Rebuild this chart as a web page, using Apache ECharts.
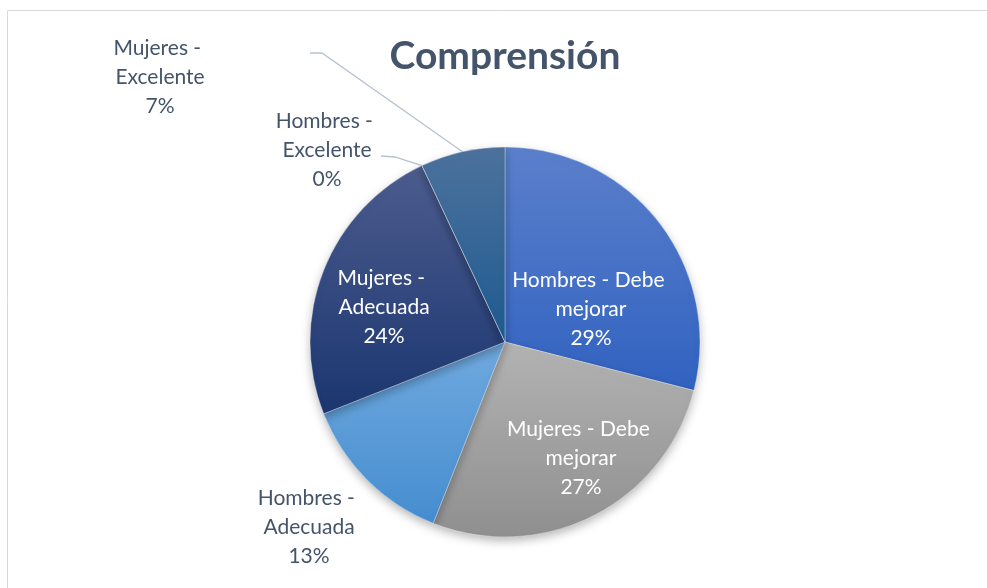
<!DOCTYPE html>
<html>
<head>
<meta charset="utf-8">
<script src="https://cdn.jsdelivr.net/npm/echarts@6/dist/echarts.min.js"></script>
<style>
html,body{margin:0;padding:0;background:#fff;}
#chart{width:987px;height:588px;}
</style>
</head>
<body>
<div id="chart"></div>
<script>
// ---- data ----
const categories = [
  'Hombres - Debe mejorar',
  'Mujeres - Debe mejorar',
  'Hombres - Adecuada',
  'Mujeres - Adecuada',
  'Hombres - Excelente',
  'Mujeres - Excelente'
];
const values = [29, 27, 13, 24, 0, 7];
const titleText = 'Comprensión';

// ---- styling (not data) ----
const gradients = [
  ['#5b80cc', '#3162c0'],
  ['#b3b3b3', '#8f8f8f'],
  ['#70a9de', '#458dd0'],
  ['#4c5c8e', '#1b3670'],
  ['#666666', '#555555'],
  ['#4d729d', '#1e5a91']
];
const inside = [true, true, false, true, false, false];
const labelLines = [false, false, false, false, true, true];
// label centre positions (text placement only)
const labelCenters = [
  [591, 309], [581, 458], [309, 527], [384, 307], [327, 150], [160, 77]
];
// leader-line elbow/end points near the label (text placement only)
const leaderEnds = {
  4: [[395, 157], [381, 156]],
  5: [[322, 53], [310, 53]]
};

const chart = echarts.init(document.getElementById('chart'));
const seriesData = categories.map((name, i) => ({
  name: name,
  value: values[i],
  itemStyle: {
    color: {
      type: 'linear', x: 0, y: 0, x2: 0, y2: 1,
      colorStops: [{offset: 0, color: gradients[i][0]}, {offset: 1, color: gradients[i][1]}]
    }
  },
  label: {
    color: inside[i] ? '#ffffff' : '#44546A'
  },
  labelLine: { show: labelLines[i] }
}));

chart.setOption({
  animation: false,
  title: {
    text: titleText,
    left: 500,
    top: 32,
    textAlign: 'center',
    textStyle: { fontFamily: 'Lato', fontWeight: 'bold', fontSize: 39, color: '#44546A' }
  },
  graphic: [{
    type: 'rect',
    shape: { x: 7.5, y: 10.5, width: 1000, height: 600 },
    style: { fill: 'none', stroke: '#d9d9d9', lineWidth: 1 },
    silent: true
  }],
  series: [{
    type: 'pie',
    center: [505, 342],
    radius: 195,
    startAngle: 90,
    clockwise: true,
    avoidLabelOverlap: false,
    minShowLabelAngle: 0,
    data: seriesData,
    itemStyle: {
      borderColor: 'rgba(255,255,255,0.55)',
      borderWidth: 0.6,
      shadowBlur: 10,
      shadowOffsetY: 4,
      shadowColor: 'rgba(0,0,0,0.28)'
    },
    label: {
      show: true,
      position: 'outside',
      formatter: p => p.name + '\n' + p.value + '%',
      width: 165,
      overflow: 'break',
      fontFamily: 'Lato',
      fontSize: 21,
      lineHeight: 29,
      align: 'center'
    },
    labelLine: {
      show: true,
      length: 10,
      length2: 10,
      lineStyle: { color: '#b8c2cf', width: 1.3 }
    },
    labelLayout: function (params) {
      const i = params.dataIndex;
      const c = labelCenters[i];
      const res = { x: c[0], y: c[1], align: 'center', verticalAlign: 'middle' };
      if (leaderEnds[i] && params.labelLinePoints) {
        res.labelLinePoints = [params.labelLinePoints[0], leaderEnds[i][0], leaderEnds[i][1]];
      }
      return res;
    }
  }]
});
</script>
</body>
</html>
